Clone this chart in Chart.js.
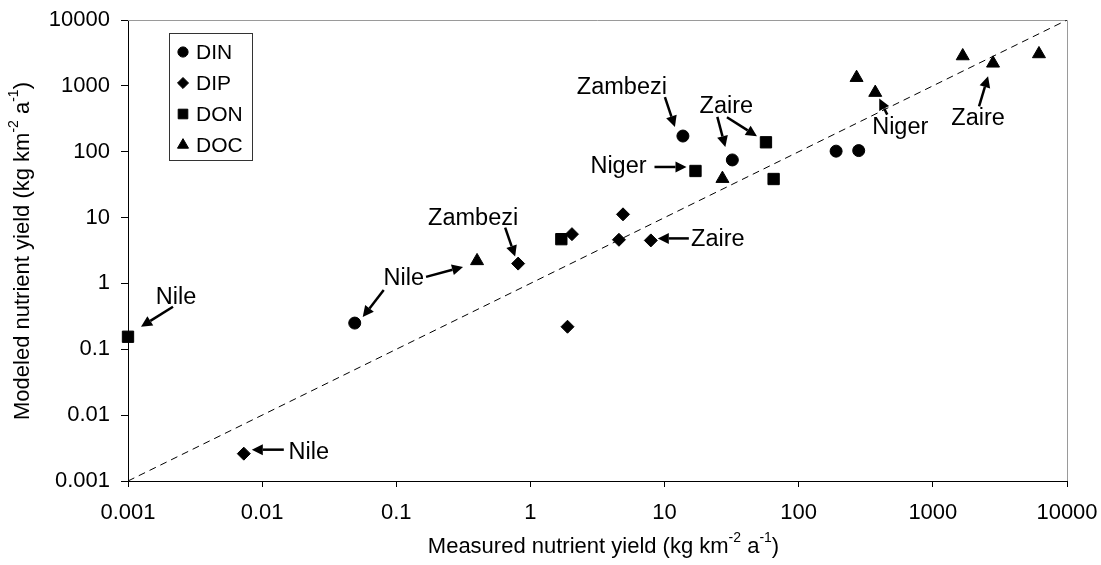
<!DOCTYPE html>
<html>
<head>
<meta charset="utf-8">
<script src="https://cdn.jsdelivr.net/npm/chart.js@4.4.1/dist/chart.umd.min.js"></script>
<style>
  html, body { margin: 0; padding: 0; background: #fff; }
</style>
</head>
<body>
<canvas id="nutrient-chart" width="1101" height="565"></canvas>
<script>
// measured (x) vs modeled (y) nutrient yield, kg km-2 a-1
const dinMeasured = [0.049, 13.7, 32, 190, 280];
const dinModeled  = [0.25, 173, 75, 102, 104];
const dipMeasured = [0.0073, 0.81, 1.89, 2.04, 4.57, 4.9, 7.9];
const dipModeled  = [0.0026, 2.0, 0.22, 5.6, 4.6, 11.2, 4.5];
const donMeasured = [0.001, 1.7, 17, 57, 65];
const donModeled  = [0.155, 4.7, 51, 139, 38.5];
const docMeasured = [0.4, 27, 270, 372, 1670, 2810, 6180];
const docModeled  = [2.2, 39, 1330, 790, 2840, 2200, 3050];
const oneToOne = [0.001, 10000];
const tickValues = [0.001, 0.01, 0.1, 1, 10, 100, 1000, 10000];

const FONT = 'Liberation Sans, Arial, sans-serif';

// river names, placed relative to the point they point at (pixel offsets)
const riverLabels = [
  { text: 'Nile', set: 2, idx: 0, dx: 48, dy: -39 },
  { text: 'Nile', set: 0, idx: 0, dx: 49, dy: -45 },
  { text: 'Nile', set: 1, idx: 0, dx: 65, dy: -1 },
  { text: 'Zambezi', set: 1, idx: 1, dx: -45, dy: -45 },
  { text: 'Zambezi', set: 0, idx: 1, dx: -61, dy: -49 },
  { text: 'Niger', set: 2, idx: 2, dx: -77, dy: -4 },
  { text: 'Zaire', set: 0, idx: 2, dx: -6, dy: -53 },
  { text: 'Zaire', set: 1, idx: 6, dx: 67, dy: -1 },
  { text: 'Niger', set: 3, idx: 3, dx: 25, dy: 35 },
  { text: 'Zaire', set: 3, idx: 5, dx: -15, dy: 55 }
];
const arrows = [
  { set: 2, idx: 0, tail: [45, -30], head: [13, -10] },
  { set: 0, idx: 0, tail: [29, -33], head: [8, -6] },
  { set: 3, idx: 0, tail: [-51, 16], head: [-14, 6] },
  { set: 1, idx: 0, tail: [40, -4], head: [8, -4] },
  { set: 1, idx: 1, tail: [-13, -36], head: [-3, -7] },
  { set: 0, idx: 1, tail: [-18, -39], head: [-8, -9] },
  { set: 2, idx: 2, tail: [-41, -4], head: [-9, -4] },
  { set: 0, idx: 2, tail: [-15, -43], head: [-7, -13] },
  { set: 2, idx: 3, tail: [-39, -25], head: [-9, -6] },
  { set: 1, idx: 6, tail: [38, -2], head: [7, -2] },
  { set: 3, idx: 3, tail: [12, 22], head: [4, 6] },
  { set: 3, idx: 5, tail: [-14, 43], head: [-5, 13] }
];

function pairs(xs, ys) {
  return xs.map((x, i) => ({ x: x, y: ys[i] }));
}

const seriesStyle = [
  { label: 'DIN', pointStyle: 'circle', pointRadius: 6 },
  { label: 'DIP', pointStyle: 'rectRot', pointRadius: 6.5 },
  { label: 'DON', pointStyle: 'rect', pointRadius: 8 },
  { label: 'DOC', pointStyle: 'triangle', pointRadius: 7.5 }
];
const seriesData = [
  pairs(dinMeasured, dinModeled),
  pairs(dipMeasured, dipModeled),
  pairs(donMeasured, donModeled),
  pairs(docMeasured, docModeled)
];

const datasets = seriesStyle.map((s, i) => ({
  type: 'scatter',
  label: s.label,
  data: seriesData[i],
  pointStyle: s.pointStyle,
  pointRadius: s.pointRadius,
  backgroundColor: '#000',
  borderColor: '#000',
  borderWidth: 1,
  clip: false
}));
datasets.push({
  type: 'line',
  label: '1:1',
  data: pairs(oneToOne, oneToOne),
  borderColor: '#000',
  borderWidth: 1,
  borderDash: [7, 5],
  pointRadius: 0,
  fill: false
});

function drawRich(ctx, parts, size, cx, cy) {
  const supSize = Math.round(size * 0.62);
  let total = 0;
  parts.forEach(p => {
    ctx.font = (p.sup ? supSize : size) + 'px ' + FONT;
    p.w = ctx.measureText(p.t).width;
    total += p.w;
  });
  let x = cx - total / 2;
  ctx.textBaseline = 'middle';
  ctx.textAlign = 'left';
  parts.forEach(p => {
    ctx.font = (p.sup ? supSize : size) + 'px ' + FONT;
    ctx.fillText(p.t, x, p.sup ? cy - size * 0.38 : cy);
    x += p.w;
  });
}

function drawArrow(ctx, x1, y1, x2, y2) {
  const ang = Math.atan2(y2 - y1, x2 - x1);
  const len = 11, half = 5.5;
  const bx = x2 - Math.cos(ang) * len, by = y2 - Math.sin(ang) * len;
  ctx.beginPath();
  ctx.moveTo(x1, y1);
  ctx.lineTo(bx, by);
  ctx.lineWidth = 2.5;
  ctx.stroke();
  ctx.beginPath();
  ctx.moveTo(x2, y2);
  ctx.lineTo(bx + Math.sin(ang) * half, by - Math.cos(ang) * half);
  ctx.lineTo(bx - Math.sin(ang) * half, by + Math.cos(ang) * half);
  ctx.closePath();
  ctx.fill();
}

const decor = {
  id: 'decor',
  beforeDatasetsDraw(chart) {
    const { ctx, chartArea: a } = chart;
    ctx.save();
    ctx.strokeStyle = '#9a9a9a';
    ctx.lineWidth = 1;
    ctx.beginPath();
    ctx.moveTo(a.left, a.top + 0.5);
    ctx.lineTo(a.right + 0.5, a.top + 0.5);
    ctx.lineTo(a.right + 0.5, a.bottom);
    ctx.stroke();
    ctx.restore();
  },
  afterDatasetsDraw(chart) {
    const { ctx, chartArea: a, scales } = chart;
    const pos = (set, idx) => {
      const p = seriesData[set][idx];
      return [scales.x.getPixelForValue(p.x), scales.y.getPixelForValue(p.y)];
    };
    ctx.save();
    ctx.fillStyle = '#000';
    ctx.strokeStyle = '#000';
    ctx.font = '23.5px ' + FONT;
    ctx.textAlign = 'center';
    ctx.textBaseline = 'middle';
    riverLabels.forEach(l => {
      const [px, py] = pos(l.set, l.idx);
      ctx.fillText(l.text, px + l.dx, py + l.dy);
    });
    arrows.forEach(r => {
      const [px, py] = pos(r.set, r.idx);
      drawArrow(ctx, px + r.tail[0], py + r.tail[1], px + r.head[0], py + r.head[1]);
    });

    // legend box
    const lx = a.left + 41, ly = a.top + 13;
    ctx.lineWidth = 1;
    ctx.strokeStyle = '#333';
    ctx.strokeRect(lx + 0.5, ly + 0.5, 83, 127);
    ctx.font = '21px ' + FONT;
    ctx.textAlign = 'left';
    seriesStyle.forEach((s, i) => {
      const yy = ly + 19 + i * 31;
      ctx.fillStyle = '#000';
      ctx.strokeStyle = '#000';
      Chart.helpers.drawPoint(ctx, {
        pointStyle: s.pointStyle,
        radius: s.pointRadius * 0.85,
        rotation: 0,
        borderWidth: 1
      }, lx + 14, yy);
      ctx.fillText(s.label, lx + 27, yy + 1);
    });
    ctx.restore();
  },
  afterDraw(chart) {
    const { ctx, chartArea: a } = chart;
    ctx.save();
    ctx.fillStyle = '#000';
    drawRich(ctx, [
      { t: 'Measured nutrient yield (kg km' },
      { t: '-2', sup: true },
      { t: ' a' },
      { t: '-1', sup: true },
      { t: ')' }
    ], 22, (a.left + a.right) / 2 + 6, 547);
    ctx.translate(23, 251);
    ctx.rotate(-Math.PI / 2);
    drawRich(ctx, [
      { t: 'Modeled nutrient yield (kg km' },
      { t: '-2', sup: true },
      { t: ' a' },
      { t: '-1', sup: true },
      { t: ')' }
    ], 22, 0, 0);
    ctx.restore();
  }
};

const tickFont = { family: FONT, size: 22 };

new Chart(document.getElementById('nutrient-chart').getContext('2d'), {
  data: { datasets: datasets },
  options: {
    responsive: false,
    animation: false,
    layout: { padding: { top: 20, right: 34, bottom: 0, left: 0 } },
    plugins: {
      legend: { display: false },
      tooltip: { enabled: false }
    },
    scales: {
      x: {
        type: 'logarithmic',
        min: 0.001,
        max: 10000,
        afterBuildTicks: s => { s.ticks = tickValues.map(v => ({ value: v })); },
        afterFit: s => { s.height = 84; s.paddingLeft = 0; s.paddingRight = 0; },
        ticks: {
          color: '#000',
          font: tickFont,
          padding: 13,
          autoSkip: false,
          maxRotation: 0,
          callback: v => String(v)
        },
        grid: { drawOnChartArea: false, tickLength: 6, color: '#000' },
        border: { color: '#000', width: 1 }
      },
      y: {
        type: 'logarithmic',
        min: 0.001,
        max: 10000,
        afterBuildTicks: s => { s.ticks = tickValues.map(v => ({ value: v })); },
        afterFit: s => { s.width = 128; s.paddingTop = 0; s.paddingBottom = 0; },
        ticks: {
          color: '#000',
          font: tickFont,
          padding: 11,
          autoSkip: false,
          callback: v => String(v)
        },
        grid: { drawOnChartArea: false, tickLength: 7, color: '#000' },
        border: { color: '#000', width: 1 }
      }
    }
  },
  plugins: [decor]
});
</script>
</body>
</html>
